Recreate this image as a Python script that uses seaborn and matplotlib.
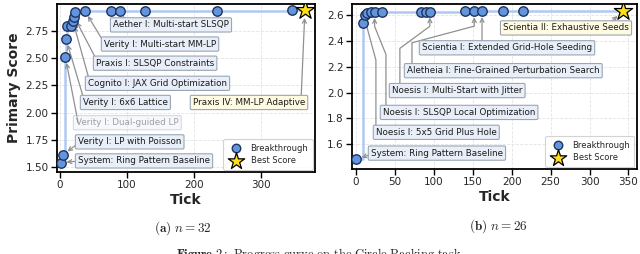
import matplotlib
matplotlib.use("Agg")
import matplotlib.pyplot as plt
import numpy as np
import pandas as pd
import seaborn as sns

# ---------------- data ----------------
# (a) n=32
ticks_a = [1, 4, 8, 9, 10, 16, 19, 21, 22, 37, 76, 89, 126, 234, 345]
scores_a = [1.54, 1.61, 2.51, 2.675, 2.80, 2.80, 2.845, 2.88, 2.92, 2.935,
            2.936, 2.937, 2.937, 2.938, 2.939]
best_tick_a = 365
best_score_a = 2.940

labels_a = ["Aether I: Multi-start SLSQP", "Verity I: Multi-start MM-LP",
            "Praxis I: SLSQP Constraints", "Cognito I: JAX Grid Optimization",
            "Verity I: 6x6 Lattice", "Praxis IV: MM-LP Adaptive",
            "Verity I: Dual-guided LP", "Verity I: LP with Poisson",
            "System: Ring Pattern Baseline"]
# index into ticks_a of each label's point (-1 = best score star)
targets_a = [11, 9, 7, 6, 3, -1, 2, 1, 0]

# (b) n=26
ticks_b = [0, 9, 12, 14, 19, 24, 33, 84, 90, 95, 140, 152, 162, 189, 215]
scores_b = [1.483, 2.54, 2.60, 2.615, 2.620, 2.622, 2.623, 2.624, 2.625,
            2.626, 2.627, 2.628, 2.629, 2.630, 2.631]
best_tick_b = 343
best_score_b = 2.634

labels_b = ["Scientia II: Exhaustive Seeds", "Scientia I: Extended Grid-Hole Seeding",
            "Aletheia I: Fine-Grained Perturbation Search", "Noesis I: Multi-Start with Jitter",
            "Noesis I: SLSQP Local Optimization", "Noesis I: 5x5 Grid Plus Hole",
            "System: Ring Pattern Baseline"]
targets_b = [-1, 12, 11, 9, 5, 3, 0]

# ---------------- layout (label placement, arrow starts) ----------------
text_pos_a = [(79, 2.806), (65.5, 2.63), (53.6, 2.454), (41.7, 2.269), (34.2, 2.093),
              (198, 2.093), (23.8, 1.907), (26.8, 1.731), (26.8, 1.556)]
arrow_start_a = [(101, 2.806), (67, 2.63), (57, 2.454), (45, 2.269), (37, 2.093),
                 (359, 2.093), (27, 1.907), (30, 1.731), (30, 1.556)]
text_pos_b = [(189, 2.50), (84.8, 2.346), (65.6, 2.169), (46.3, 2.015),
              (34.7, 1.846), (25.7, 1.692), (19.3, 1.531)]
arrow_start_b = [(320, 2.50), (162, 2.346), (72, 2.169), (56.5, 2.015),
                 (38.6, 1.846), (25.7, 1.692), (24.4, 1.531)]
elbow_b = [False, True, True, True, True, True, False]
level_b = 2.469
highlight_a = [False, False, False, False, False, True, False, False, False]
faded_a = [False, False, False, False, False, False, True, False, False]
highlight_b = [True, False, False, False, False, False, False]

# ---------------- style ----------------
sns.set_theme(style="whitegrid")
plt.rcParams["font.family"] = ["DejaVu Sans"]
plt.rcParams["mathtext.fontset"] = "cm"

LINE_C = "#a7c3ee"
FACE_C = "#6495dc"
EDGE_C = "#1c3461"
STAR_C = "#ffde1a"
BOX_FC = "#e9eff8"
BOX_YC = "#fffbe2"
BOX_EC = "#9ba6b4"
ARR_C = "#909090"

fig = plt.figure(figsize=(6.4, 2.54), dpi=100)
axA = fig.add_axes([57 / 640, 1 - 172 / 254, (315 - 57) / 640, (172 - 4) / 254])
axB = fig.add_axes([352 / 640, 1 - 169 / 254, (637 - 352) / 640, (169 - 4) / 254])


def draw(ax, ticks, scores, bt, bs, xlim, ylim, xticks, yticks, yfmt):
    df = pd.DataFrame({"Tick": ticks + [bt], "Score": scores + [bs]})
    sns.lineplot(data=df, x="Tick", y="Score", drawstyle="steps-post", color=LINE_C,
                 lw=1.8, alpha=0.9, ax=ax, zorder=2)
    sns.scatterplot(x=ticks, y=scores, s=46, color=FACE_C, edgecolor=EDGE_C,
                    linewidth=1.0, ax=ax, zorder=5, label="Breakthrough")
    sns.scatterplot(x=[bt], y=[bs], marker="*", s=190, color=STAR_C, edgecolor="black",
                    linewidth=0.9, ax=ax, zorder=6, label="Best Score")
    ax.set_xlim(*xlim)
    ax.set_ylim(*ylim)
    ax.set_xticks(xticks)
    ax.set_yticks(yticks)
    ax.set_yticklabels([yfmt.format(v) for v in yticks])
    ax.grid(True, color="#e3e3e3", lw=0.6, ls="--")
    for sp in ax.spines.values():
        sp.set_color("black")
        sp.set_linewidth(1.3)
    ax.tick_params(axis="both", length=4, width=1.0, color="black", labelsize=7.5,
                   pad=2, bottom=True, left=True)
    ax.set_xlabel("Tick", fontsize=10, fontweight="bold", labelpad=2)
    leg = ax.legend(loc="lower right", fontsize=6, frameon=True, borderpad=0.5,
                    handletextpad=0.8, labelspacing=0.45, borderaxespad=0.3,
                    markerscale=0.9)
    leg.get_frame().set_edgecolor("#c8c8c8")
    leg.get_frame().set_linewidth(0.8)


draw(axA, ticks_a, scores_a, best_tick_a, best_score_a, (-4.5, 380), (1.454, 2.998),
     [0, 100, 200, 300], [1.50, 1.75, 2.00, 2.25, 2.50, 2.75], "{:.2f}")
draw(axB, ticks_b, scores_b, best_tick_b, best_score_b, (-5, 361), (1.408, 2.685),
     [0, 50, 100, 150, 200, 250, 300, 350], [1.6, 1.8, 2.0, 2.2, 2.4, 2.6], "{:.1f}")
axA.set_ylabel("Primary Score", fontsize=10, fontweight="bold", labelpad=3)
axB.set_ylabel("")


def target_xy(ticks, scores, bt, bs, idx):
    if idx < 0:
        return (bt, bs)
    return (ticks[idx], scores[idx])


def annotate(ax, labels, targets, tpos, starts, ticks, scores, bt, bs, hl, faded,
             elbow=None, level=None):
    k = 72 / fig.dpi
    for i, lab in enumerate(labels):
        tgt = target_xy(ticks, scores, bt, bs, targets[i])
        alpha = 0.4 if faded[i] else 1.0
        cs = "arc3,rad=0"
        if elbow is not None and elbow[i]:
            ys = ax.transData.transform(starts[i])[1]
            yt = ax.transData.transform(tgt)[1]
            yl = ax.transData.transform((0, level))[1]
            cs = "arc,angleA=90,armA={:.2f},angleB=-90,armB={:.2f},rad=0".format(
                (yl - ys) * k, (yt - yl) * k)
        shrinkB = 5.5 if targets[i] < 0 else 4.2
        ax.annotate("", xy=tgt, xytext=starts[i],
                    arrowprops=dict(arrowstyle="->", color=ARR_C, lw=0.9,
                                    shrinkA=0, shrinkB=shrinkB, connectionstyle=cs,
                                    mutation_scale=7),
                    zorder=3, alpha=alpha)
        ax.text(tpos[i][0], tpos[i][1], lab, fontsize=6.3, ha="left", va="center",
                zorder=7, alpha=alpha, color="#1a1a1a",
                bbox=dict(boxstyle="round,pad=0.3,rounding_size=0.15",
                          fc=BOX_YC if hl[i] else BOX_FC, ec=BOX_EC, lw=0.8,
                          alpha=alpha))


annotate(axA, labels_a, targets_a, text_pos_a, arrow_start_a, ticks_a, scores_a,
         best_tick_a, best_score_a, highlight_a, faded_a)
annotate(axB, labels_b, targets_b, text_pos_b, arrow_start_b, ticks_b, scores_b,
         best_tick_b, best_score_b, highlight_b, [False] * len(labels_b),
         elbow=elbow_b, level=level_b)

fig.text(183 / 640, 1 - 228 / 254, r"$\mathbf{(a)}\ n{=}32$", ha="center", va="center",
         fontsize=9.5)
fig.text(498 / 640, 1 - 226 / 254, r"$\mathbf{(b)}\ n{=}26$", ha="center", va="center",
         fontsize=9.5)
fig.text(0.5, 1 - 246 / 254,
         r"$\mathbf{Figure\ 2{:}}$ $\mathrm{Progress\ curve\ on\ the\ Circle\ Packing\ task.}$",
         ha="center", va="top", fontsize=9)

fig.savefig("out.png", dpi=100)
